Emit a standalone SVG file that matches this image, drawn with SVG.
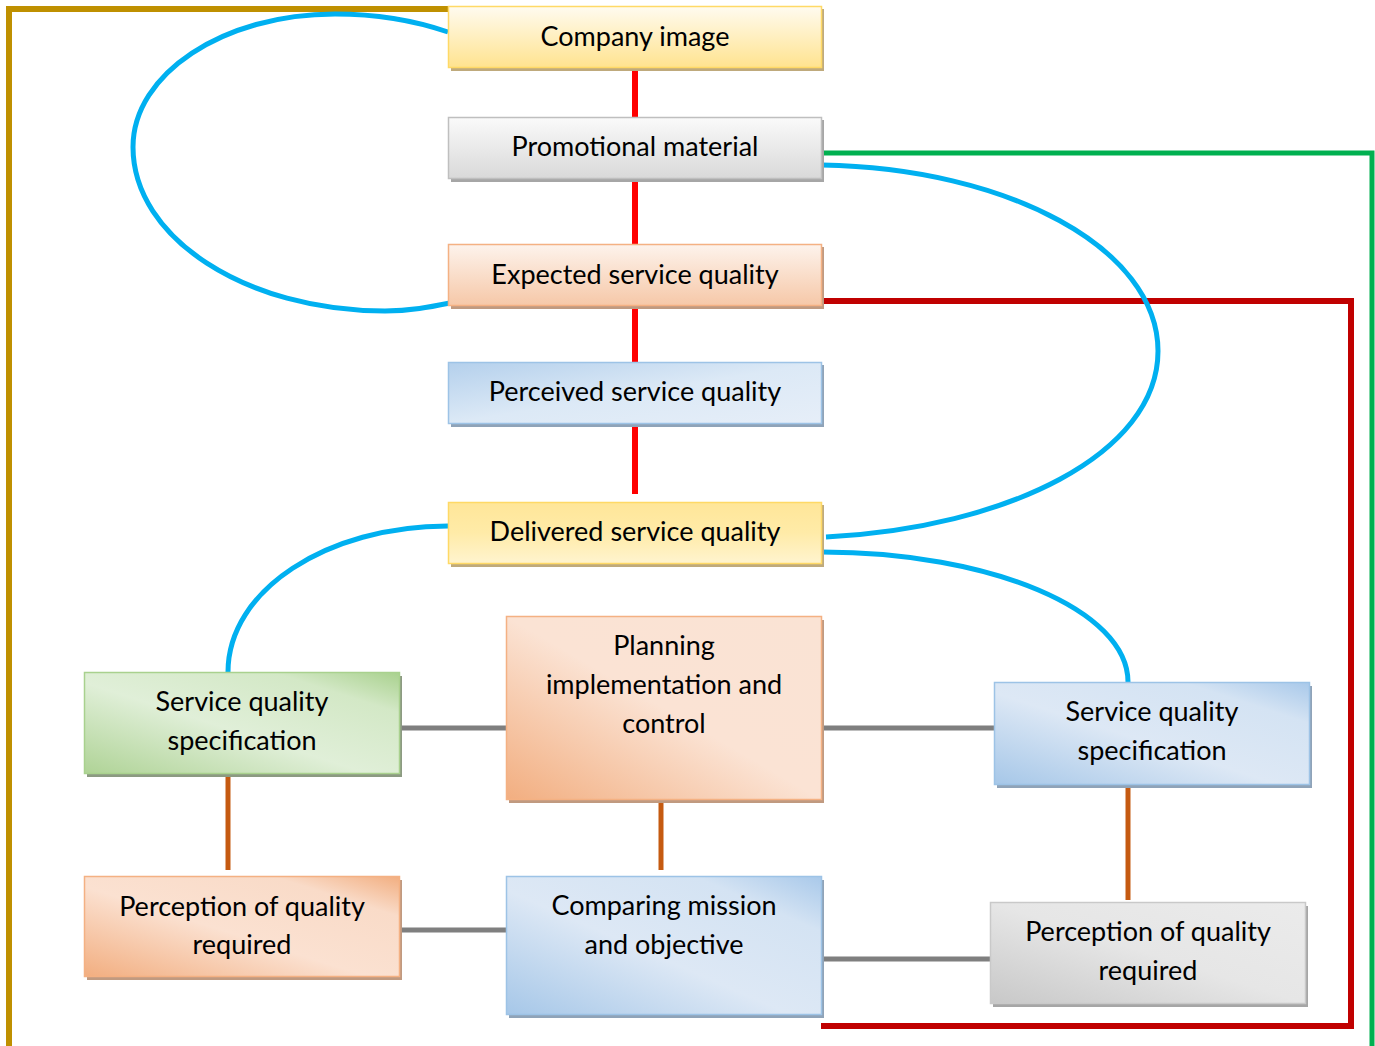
<svg xmlns="http://www.w3.org/2000/svg" width="1375" height="1046" viewBox="0 0 1375 1046">
<defs>
<linearGradient id="gYellow" x1="0" y1="0" x2="0" y2="1"><stop offset="0" stop-color="#FFFBF0"/><stop offset="1" stop-color="#FFE38F"/></linearGradient>
<linearGradient id="gYellow2" x1="0" y1="0" x2="0" y2="1"><stop offset="0" stop-color="#FFE699"/><stop offset="0.5" stop-color="#FFEBA8"/><stop offset="1" stop-color="#FFF4CF"/></linearGradient>
<linearGradient id="gGrey" x1="0" y1="0" x2="0" y2="1"><stop offset="0" stop-color="#FAFAFA"/><stop offset="1" stop-color="#D9D9D9"/></linearGradient>
<linearGradient id="gPeach" x1="0" y1="0" x2="0" y2="1"><stop offset="0" stop-color="#FDF3EC"/><stop offset="1" stop-color="#F6C8A8"/></linearGradient>
<linearGradient id="gBlue" x1="0" y1="0" x2="1" y2="1"><stop offset="0" stop-color="#B4D0EC"/><stop offset="0.5" stop-color="#DCE9F6"/><stop offset="1" stop-color="#E6EEF8"/></linearGradient>
<linearGradient id="gBlue2" x1="0" y1="1" x2="1" y2="0"><stop offset="0" stop-color="#A6C7E8"/><stop offset="0.45" stop-color="#DDE8F5"/><stop offset="0.8" stop-color="#D4E3F3"/><stop offset="1" stop-color="#A9C9EA"/></linearGradient>
<linearGradient id="gGreen" x1="0" y1="1" x2="1" y2="0"><stop offset="0" stop-color="#AFD396"/><stop offset="0.45" stop-color="#E0EFD8"/><stop offset="0.8" stop-color="#D3E8C6"/><stop offset="1" stop-color="#A9D18E"/></linearGradient>
<linearGradient id="gOrange" x1="0" y1="1" x2="1" y2="0"><stop offset="0" stop-color="#F2AE80"/><stop offset="0.45" stop-color="#FBE1D1"/><stop offset="0.8" stop-color="#F9DBC8"/><stop offset="1" stop-color="#F2AE80"/></linearGradient>
<linearGradient id="gOrange2" x1="0" y1="1" x2="1" y2="0"><stop offset="0" stop-color="#F2AE80"/><stop offset="0.5" stop-color="#FBE3D4"/><stop offset="1" stop-color="#FAE3D4"/></linearGradient>
<linearGradient id="gGrey2" x1="0" y1="1" x2="1" y2="0"><stop offset="0" stop-color="#C8C8C8"/><stop offset="0.5" stop-color="#E6E6E6"/><stop offset="1" stop-color="#EBEBEB"/></linearGradient>
</defs>
<style>
text{font-family:Lato,"Liberation Sans",sans-serif;font-size:27px;fill:#000;text-anchor:middle}
.red{stroke:#FF0000;stroke-width:6;fill:none}
.gry{stroke:#7F7F7F;stroke-width:5;fill:none}
.brn{stroke:#C55A11;stroke-width:5;fill:none}
.blu{stroke:#00B0F0;stroke-width:5;fill:none}
</style>
<rect width="1375" height="1046" fill="#FFFFFF"/>
<g id="connectors">
<polyline points="448,9 9,9 9,1046" fill="none" stroke="#BF9000" stroke-width="6"/>
<polyline points="822,153 1372,153 1372,1046" fill="none" stroke="#00B050" stroke-width="5"/>
<polyline points="822,301 1351,301 1351,1026 821,1026" fill="none" stroke="#C00000" stroke-width="6"/>
<line class="red" x1="635" y1="68" x2="635" y2="117"/>
<line class="red" x1="635" y1="178" x2="635" y2="244"/>
<line class="red" x1="635" y1="306" x2="635" y2="362"/>
<line class="red" x1="635" y1="424" x2="635" y2="494"/>
<path class="blu" d="M448,32 C410,19 375,14 335,14 C223,14 133,74 133,147 C133,238 246,311 385,311 C410,311 430,307 450,303"/>
<path class="blu" d="M822,165 C1007,168 1158,248 1158,351 C1158,454 1007,528 826,537"/>
<path class="blu" d="M448,526 C327,526 228,590 228,672"/>
<path class="blu" d="M822,552 C991,552 1128,610 1128,682"/>
<line class="gry" x1="399" y1="728" x2="506" y2="728"/>
<line class="gry" x1="822" y1="728" x2="994" y2="728"/>
<line class="gry" x1="399" y1="930" x2="506" y2="930"/>
<line class="gry" x1="822" y1="959" x2="991" y2="959"/>
<line class="brn" x1="228" y1="773" x2="228" y2="870"/>
<line class="brn" x1="661" y1="802" x2="661" y2="870"/>
<line class="brn" x1="1128" y1="785" x2="1128" y2="900"/>
</g>
<g id="company-image">
<rect x="451" y="9" width="373" height="62" fill="#BFAA7C"/>
<rect x="448.5" y="6.5" width="373" height="61" fill="url(#gYellow)" stroke="#FFD966" stroke-width="1.5"/>
<text x="635" y="46">Company image</text>
</g>
<g id="promotional-material">
<rect x="451" y="120" width="373" height="62" fill="#A6A6A6"/>
<rect x="448.5" y="117.5" width="373" height="61" fill="url(#gGrey)" stroke="#BFBFBF" stroke-width="1.5"/>
<text x="635" y="156">Promotional material</text>
</g>
<g id="expected-service-quality">
<rect x="451" y="247" width="373" height="62" fill="#C09A80"/>
<rect x="448.5" y="244.5" width="373" height="61" fill="url(#gPeach)" stroke="#F4B183" stroke-width="1.5"/>
<text x="635" y="284">Expected service quality</text>
</g>
<g id="perceived-service-quality">
<rect x="451" y="365" width="373" height="62" fill="#8FA3B8"/>
<rect x="448.5" y="362.5" width="373" height="61" fill="url(#gBlue)" stroke="#9DC3E6" stroke-width="1.5"/>
<text x="635" y="401">Perceived service quality</text>
</g>
<g id="delivered-service-quality">
<rect x="451" y="505" width="373" height="62" fill="#BFAA7C"/>
<rect x="448.5" y="502.5" width="373" height="61" fill="url(#gYellow2)" stroke="#FFD966" stroke-width="1.5"/>
<text x="635" y="541">Delivered service quality</text>
</g>
<g id="service-quality-spec-left">
<rect x="87" y="676" width="315" height="101" fill="#8C9A82"/>
<rect x="84.5" y="672.5" width="315" height="101" fill="url(#gGreen)" stroke="#A9D18E" stroke-width="1.5"/>
<text x="242" y="711">Service quality</text>
<text x="242" y="750">specification</text>
</g>
<g id="perception-left">
<rect x="87" y="880" width="315" height="100" fill="#C09A80"/>
<rect x="84.5" y="876.5" width="315" height="100" fill="url(#gOrange)" stroke="#F4B183" stroke-width="1.5"/>
<text x="242" y="916">Perception of quality</text>
<text x="242" y="954">required</text>
</g>
<g id="planning">
<rect x="509" y="620" width="315" height="183" fill="#C09A80"/>
<rect x="506.5" y="616.5" width="315" height="183" fill="url(#gOrange2)" stroke="#F4B183" stroke-width="1.5"/>
<text x="664" y="655">Planning</text>
<text x="664" y="694">implementation and</text>
<text x="664" y="733">control</text>
</g>
<g id="comparing">
<rect x="509" y="880" width="315" height="138" fill="#8FA3B8"/>
<rect x="506.5" y="876.5" width="315" height="138" fill="url(#gBlue2)" stroke="#9DC3E6" stroke-width="1.5"/>
<text x="664" y="915">Comparing mission</text>
<text x="664" y="954">and objective</text>
</g>
<g id="service-quality-spec-right">
<rect x="997" y="686" width="315" height="102" fill="#8FA3B8"/>
<rect x="994.5" y="682.5" width="315" height="102" fill="url(#gBlue2)" stroke="#9DC3E6" stroke-width="1.5"/>
<text x="1152" y="721">Service quality</text>
<text x="1152" y="760">specification</text>
</g>
<g id="perception-right">
<rect x="993" y="906" width="315" height="101" fill="#A6A6A6"/>
<rect x="990.5" y="902.5" width="315" height="101" fill="url(#gGrey2)" stroke="#C9C9C9" stroke-width="1.5"/>
<text x="1148" y="941">Perception of quality</text>
<text x="1148" y="980">required</text>
</g>
</svg>
